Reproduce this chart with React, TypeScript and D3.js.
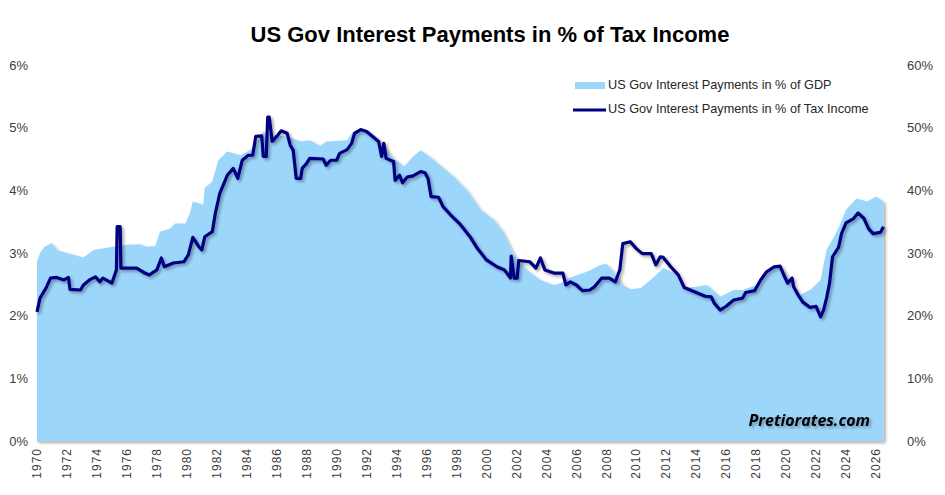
import { useEffect, useRef } from 'react'
import * as d3 from 'd3'

const gdpYears = [
  1970.0, 1970.2, 1970.5, 1971.0, 1971.3, 1972.0, 1973.1, 1973.8, 1974.9, 1975.3,
  1976.0, 1976.9, 1977.3, 1977.9, 1978.2, 1978.9, 1979.2, 1979.9, 1980.2, 1980.4,
  1981.1, 1981.2, 1981.7, 1982.1, 1982.7, 1983.6, 1984.4, 1985.1, 1985.8, 1986.7,
  1987.6, 1988.2, 1988.9, 1989.3, 1990.7, 1991.1, 1991.4, 1992.2, 1992.9, 1993.8,
  1994.5, 1995.1, 1995.6, 1996.2, 1996.9, 1997.8, 1998.7, 1999.6, 2000.5, 2001.1,
  2001.8, 2002.7, 2003.6, 2004.5, 2005.0, 2005.5, 2006.7, 2007.6, 2008.0, 2008.5,
  2009.1, 2009.6, 2010.3, 2011.2, 2011.8, 2012.5, 2013.1, 2014.0, 2014.7, 2015.6,
  2016.5, 2017.1, 2018.0, 2018.7, 2019.4, 2019.8, 2020.3, 2020.9, 2021.6, 2022.3,
  2022.7, 2023.2, 2023.6, 2024.0, 2024.7, 2025.4, 2026.0, 2026.5,
]
const gdpValues = [
  2.86, 3.0, 3.1, 3.16, 3.05, 3.0, 2.93, 3.05, 3.09, 3.11,
  3.13, 3.14, 3.1, 3.11, 3.34, 3.39, 3.47, 3.47, 3.63, 3.82,
  3.77, 4.04, 4.14, 4.48, 4.62, 4.56, 4.67, 4.94, 4.88, 4.86,
  4.78, 4.8, 4.71, 4.78, 4.8, 4.94, 4.97, 4.91, 4.78, 4.51,
  4.38, 4.54, 4.64, 4.54, 4.4, 4.22, 4.0, 3.69, 3.53, 3.34,
  2.99, 2.73, 2.57, 2.49, 2.52, 2.6, 2.7, 2.81, 2.83, 2.7,
  2.49, 2.42, 2.44, 2.62, 2.76, 2.68, 2.44, 2.46, 2.49, 2.3,
  2.41, 2.41, 2.49, 2.68, 2.78, 2.73, 2.52, 2.33, 2.41, 2.57,
  3.05, 3.26, 3.45, 3.69, 3.87, 3.82, 3.9, 3.82,
]

const taxYears = [
  1970.0, 1970.2, 1970.4, 1970.6, 1970.9, 1971.3, 1971.8, 1972.1, 1972.2, 1972.9,
  1973.1, 1973.5, 1973.9, 1974.2, 1974.4, 1975.0, 1975.3, 1975.35, 1975.55, 1975.6,
  1976.65, 1977.2, 1977.5, 1978.0, 1978.3, 1978.5, 1979.1, 1979.8, 1980.1, 1980.4,
  1980.8, 1981.0, 1981.2, 1981.7, 1981.9, 1982.2, 1982.7, 1983.1, 1983.4, 1983.7,
  1984.1, 1984.4, 1984.6, 1985.0, 1985.1, 1985.3, 1985.4, 1985.5, 1985.7, 1986.0,
  1986.3, 1986.7, 1986.9, 1987.1, 1987.3, 1987.6, 1987.7, 1988.0, 1988.2, 1989.1,
  1989.3, 1989.6, 1990.0, 1990.2, 1990.7, 1991.0, 1991.2, 1991.6, 1992.0, 1992.4,
  1992.8, 1993.0, 1993.15, 1993.3, 1993.8, 1993.9, 1994.2, 1994.4, 1994.7, 1995.1,
  1995.6, 1995.9, 1996.1, 1996.3, 1996.8, 1997.1, 1997.6, 1998.2, 1998.9, 1999.4,
  2000.0, 2000.7, 2001.2, 2001.6, 2001.65, 2001.85, 2002.05, 2002.15, 2002.9, 2003.3,
  2003.6, 2003.9, 2004.5, 2005.1, 2005.3, 2005.6, 2006.0, 2006.4, 2006.9, 2007.2,
  2007.7, 2008.2, 2008.6, 2008.9, 2009.1, 2009.6, 2010.0, 2010.4, 2011.0, 2011.3,
  2011.6, 2011.8, 2012.3, 2012.8, 2013.2, 2014.0, 2014.6, 2015.0, 2015.2, 2015.6,
  2016.0, 2016.5, 2017.1, 2017.3, 2017.9, 2018.3, 2018.7, 2019.2, 2019.6, 2019.9,
  2020.1, 2020.4, 2020.5, 2020.8, 2021.1, 2021.6, 2022.0, 2022.3, 2022.5, 2022.7,
  2022.9, 2023.1, 2023.5, 2023.7, 2024.0, 2024.5, 2024.8, 2025.2, 2025.5, 2025.8,
  2026.3, 2026.5,
]
const taxValues = [
  20.6, 22.8, 23.6, 24.4, 26.0, 26.1, 25.7, 26.1, 24.2, 24.1,
  24.9, 25.7, 26.2, 25.4, 26.0, 25.2, 27.3, 34.2, 34.2, 27.6,
  27.6, 26.8, 26.5, 27.3, 29.2, 27.8, 28.4, 28.6, 29.7, 32.5,
  31.0, 30.5, 32.6, 33.4, 36.3, 39.5, 42.4, 43.5, 41.9, 44.8,
  45.6, 45.6, 48.6, 48.7, 45.4, 45.4, 51.7, 51.7, 47.8, 48.6,
  49.5, 49.1, 47.2, 46.4, 41.9, 41.9, 43.5, 44.3, 45.1, 45.0,
  44.0, 44.8, 44.8, 45.9, 46.5, 47.5, 49.1, 49.7, 49.4, 48.6,
  47.8, 45.4, 47.5, 45.1, 44.6, 41.6, 42.4, 41.2, 42.1, 42.3,
  43.0, 42.8, 41.9, 39.0, 38.9, 37.4, 36.1, 34.7, 32.6, 30.7,
  28.9, 27.8, 27.3, 26.0, 29.5, 26.0, 26.0, 28.8, 28.6, 27.6,
  29.2, 27.3, 26.8, 26.8, 24.9, 25.4, 24.9, 24.0, 24.1, 24.6,
  26.0, 26.0, 25.4, 27.3, 31.5, 31.8, 30.7, 29.9, 29.9, 28.1,
  29.4, 29.3, 27.8, 26.5, 24.5, 23.7, 23.1, 23.0, 22.0, 20.9,
  21.5, 22.5, 22.8, 23.7, 24.0, 25.7, 27.0, 27.8, 27.9, 26.2,
  25.2, 26.0, 24.6, 23.3, 22.2, 21.3, 21.5, 19.8, 20.9, 22.8,
  25.2, 29.4, 30.9, 33.1, 34.8, 35.5, 36.4, 35.5, 33.9, 33.1,
  33.3, 34.2,
]

const xTickYears = d3.range(1970, 2027, 2)
const leftTicks = [0, 1, 2, 3, 4, 5, 6]
const rightTicks = [0, 10, 20, 30, 40, 50, 60]

const title = 'US Gov Interest Payments in % of Tax Income'
const gdpLabel = 'US Gov Interest Payments in % of GDP'
const taxLabel = 'US Gov Interest Payments in % of Tax Income'

export default function App() {
  const ref = useRef<SVGSVGElement>(null)
  const width = 945
  const height = 495

  useEffect(() => {
    if (!ref.current) return
    const svg = d3.select(ref.current)
    svg.selectAll('*').remove()

    const x = d3.scaleLinear().domain([1970, 2026]).range([37, 876])
    const yL = d3.scaleLinear().domain([0, 6]).range([441, 65])
    const yR = d3.scaleLinear().domain([0, 60]).range([441, 65])

    const defs = svg.append('defs')
    const f = defs.append('filter').attr('id', 'shadow')
      .attr('x', '-5%').attr('y', '-5%').attr('width', '110%').attr('height', '115%')
    f.append('feDropShadow')
      .attr('dx', 2).attr('dy', 2).attr('stdDeviation', 1.5)
      .attr('flood-color', '#000').attr('flood-opacity', 0.35)

    const gdpData = gdpYears.map((yr, i) => ({ yr, v: gdpValues[i] }))
    const taxData = taxYears.map((yr, i) => ({ yr, v: taxValues[i] }))

    const area = d3.area<{ yr: number; v: number }>()
      .x((d) => x(d.yr))
      .y0(yL(0))
      .y1((d) => yL(d.v))

    svg.append('path')
      .datum(gdpData)
      .attr('fill', '#9dd6fb')
      .attr('filter', 'url(#shadow)')
      .attr('d', area)

    // bottom axis line
    svg.append('line')
      .attr('x1', x(1970)).attr('x2', x(gdpYears[gdpYears.length - 1]))
      .attr('y1', yL(0) + 0.5).attr('y2', yL(0) + 0.5)
      .attr('stroke', '#c8c8c8').attr('stroke-width', 1)

    const line = d3.line<{ yr: number; v: number }>()
      .x((d) => x(d.yr))
      .y((d) => yR(d.v))

    svg.append('path')
      .datum(taxData)
      .attr('fill', 'none')
      .attr('stroke', '#000080')
      .attr('stroke-width', 3.2)
      .attr('stroke-linejoin', 'round')
      .attr('filter', 'url(#shadow)')
      .attr('d', line)

    const font = '"Liberation Sans", Arial, sans-serif'

    svg.append('g').selectAll('text')
      .data(leftTicks)
      .join('text')
      .attr('x', 28)
      .attr('y', (d) => yL(d))
      .attr('dy', '0.35em')
      .attr('text-anchor', 'end')
      .style('font-family', font)
      .style('font-size', '13px')
      .style('fill', '#404040')
      .text((d) => `${d}%`)

    svg.append('g').selectAll('text')
      .data(rightTicks)
      .join('text')
      .attr('x', 907)
      .attr('y', (d) => yR(d))
      .attr('dy', '0.35em')
      .attr('text-anchor', 'start')
      .style('font-family', font)
      .style('font-size', '13px')
      .style('fill', '#404040')
      .text((d) => `${d}%`)

    svg.append('g').selectAll('text')
      .data(xTickYears)
      .join('text')
      .attr('transform', (d) => `translate(${x(d)},448) rotate(-90)`)
      .attr('dy', '0.35em')
      .attr('text-anchor', 'end')
      .style('font-family', font)
      .style('font-size', '12px')
      .style('letter-spacing', '1px')
      .style('fill', '#404040')
      .text((d) => String(d))

    svg.append('text')
      .attr('x', 490)
      .attr('y', 42)
      .attr('text-anchor', 'middle')
      .style('font-family', font)
      .style('font-weight', 'bold')
      .style('font-size', '22px')
      .style('fill', '#000')
      .text(title)

    // legend
    const lg = svg.append('g')
    lg.append('rect')
      .attr('x', 575).attr('y', 82).attr('width', 30).attr('height', 7)
      .attr('fill', '#9dd6fb')
    lg.append('text')
      .attr('x', 608).attr('y', 84.5).attr('dy', '0.35em')
      .style('font-family', font).style('font-size', '12.7px').style('fill', '#262626')
      .text(gdpLabel)
    lg.append('line')
      .attr('x1', 573).attr('x2', 606).attr('y1', 110).attr('y2', 110)
      .attr('stroke', '#000080').attr('stroke-width', 3)
    lg.append('text')
      .attr('x', 608).attr('y', 109).attr('dy', '0.35em')
      .style('font-family', font).style('font-size', '12.7px').style('fill', '#262626')
      .text(taxLabel)

    svg.append('text')
      .attr('x', 870)
      .attr('y', 426)
      .attr('text-anchor', 'end')
      .attr('filter', 'url(#shadow)')
      .style('font-family', '"Open Sans", "DejaVu Sans", sans-serif')
      .style('font-weight', 'bold')
      .style('font-style', 'italic')
      .style('font-size', '16px')
      .style('fill', '#000')
      .text('Pretiorates.com')
  }, [])

  return (
    <div style={{ position: 'absolute', left: 0, top: 0 }}>
      <svg ref={ref} width={width} height={height} style={{ display: 'block', background: '#fff' }} />
    </div>
  )
}
